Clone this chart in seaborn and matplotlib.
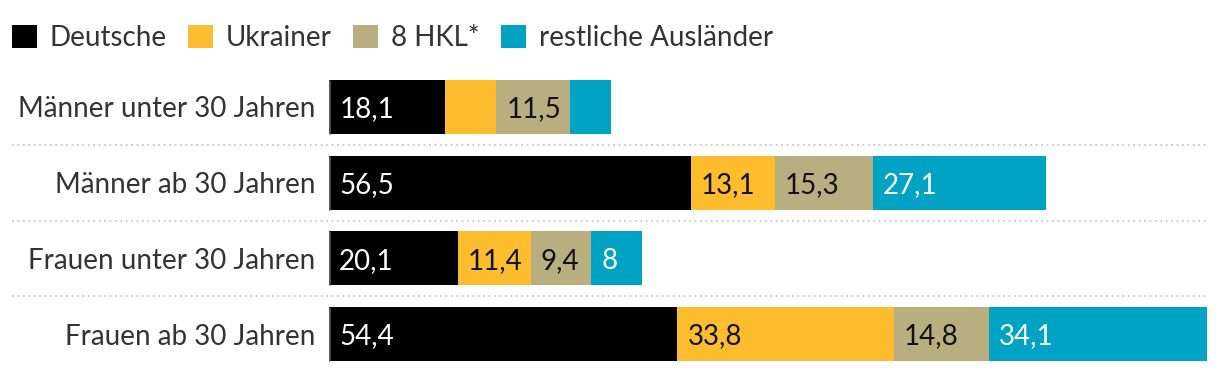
import numpy as np
import pandas as pd
import matplotlib
matplotlib.use("Agg")
import matplotlib.pyplot as plt
import seaborn as sns
from matplotlib.patches import Patch

# data
groups = ["Männer unter 30 Jahren", "Männer ab 30 Jahren",
          "Frauen unter 30 Jahren", "Frauen ab 30 Jahren"]
series = ["Deutsche", "Ukrainer", "8 HKL*", "restliche Ausländer"]
deutsche = [18.1, 56.5, 20.1, 54.4]
ukrainer = [8.0, 13.1, 11.4, 33.8]
hkl = [11.5, 15.3, 9.4, 14.8]
rest = [6.4, 27.1, 8.0, 34.1]
# which segments carry a value label
show_label = [[True, False, True, False],
              [True, True, True, True],
              [True, True, True, True],
              [True, True, True, True]]

colors = ["#000000", "#fdbd2f", "#b8ae7f", "#00a3c3"]
text_colors = ["white", "#111111", "#111111", "white"]

df = pd.DataFrame({"group": groups, "Deutsche": deutsche, "Ukrainer": ukrainer,
                   "8 HKL*": hkl, "restliche Ausländer": rest})
cum = df[series].cumsum(axis=1)

sns.set_style("white")
plt.rcParams["font.family"] = ["Lato", "DejaVu Sans"]
fs = 20

fig = plt.figure(figsize=(12.2, 3.72), dpi=100)
ax = fig.add_axes([329 / 1220, 0.0, 878 / 1220, 303 / 372])

# overlay cumulative bars, longest first
for s, c in reversed(list(zip(series, colors))):
    sns.barplot(x=cum[s], y=df["group"], orient="h", color=c, width=0.71,
                linewidth=0, saturation=1, ax=ax)

ax.set_xlim(0, 137.1)
ax.set_ylim(3.5, -0.5)
ax.set_xlabel("")
ax.set_ylabel("")
ax.set_xticks([])
for sp in ax.spines.values():
    sp.set_visible(False)
ax.tick_params(axis="y", length=0, pad=10, labelsize=fs, labelcolor="#333333")

# value labels, left aligned inside each segment
for i in range(len(groups)):
    left = 0
    for j, s in enumerate(series):
        v = df[s].iloc[i]
        if show_label[i][j]:
            txt = f"{v:g}".replace(".", ",")
            ax.text(left + 1.6, i + 0.03, txt, va="center", ha="left",
                    fontsize=fs, color=text_colors[j])
        left += v
    ax.vlines(0, i - 0.355, i + 0.355, color="#555555", lw=2)

# dotted separators
for y in [0.5, 1.5, 2.5]:
    ax.axhline(y, xmin=-317 / 878, xmax=1.0, color="#c8c8c8", ls=(0, (1, 2)),
               lw=1.3, clip_on=False)

handles = [Patch(facecolor=c, edgecolor="none") for c in colors]
fig.legend(handles, series, loc="upper left", bbox_to_anchor=(12 / 1220, 0.933),
           ncol=4, frameon=False, fontsize=fs, handlelength=0.9,
           handleheight=0.9, handletextpad=0.45, columnspacing=0.78,
           borderpad=0, borderaxespad=0, labelcolor="#333333")

fig.savefig("out.png", dpi=100)
